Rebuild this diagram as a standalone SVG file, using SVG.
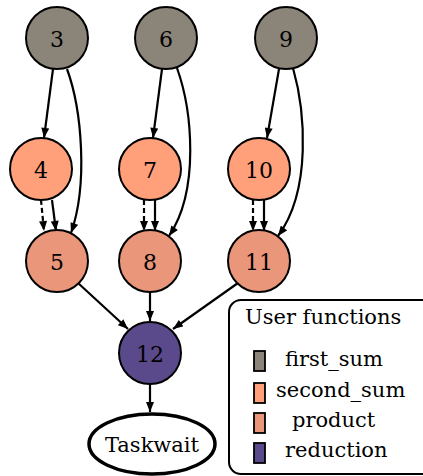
<svg xmlns="http://www.w3.org/2000/svg" width="423" height="476" viewBox="0 0 423 476">
  <style>
    .node circle { stroke: #000; stroke-width: 2; }
    .label { font-family: "DejaVu Serif", serif; font-size: 22px; fill: #000; text-anchor: middle; dominant-baseline: central; }
    .first { fill: #8b8478; }
    .second { fill: #ffa07a; }
    .product { fill: #e9967a; }
    .reduction { fill: #5b4a8b; }
    .edge { fill: none; stroke: #000; stroke-width: 2.2; marker-end: url(#arrow); }
    .dashed { stroke-dasharray: 5 3; }
    .legend-text { font-family: "DejaVu Serif", serif; font-size: 21px; fill: #000; }
    .swatch { stroke: #000; stroke-width: 1.8; }
  </style>
  <defs>
    <marker id="arrow" viewBox="0 0 10 8" refX="10" refY="4" markerWidth="11" markerHeight="8" markerUnits="userSpaceOnUse" orient="auto">
      <path d="M0,0 L10,4 L0,8 Z" fill="#000"/>
    </marker>
  </defs>
  <rect width="423" height="476" fill="#fff"/>

  <g id="edges">
    <!-- first_sum -> second_sum -->
    <path class="edge" d="M53,69 L44,138"/>
    <path class="edge" d="M162,69 L153,138"/>
    <path class="edge" d="M279,69 L267,138"/>
    <!-- first_sum -> product (long arcs) -->
    <path class="edge" d="M67,69 C82,110 88,185 71,233"/>
    <path class="edge" d="M177,68 C192,110 200,190 169,236"/>
    <path class="edge" d="M293,68 C305,110 312,190 278,236"/>
    <!-- second_sum -> product, solid and dashed -->
    <path class="edge dashed" d="M41,200 L44,231"/>
    <path class="edge" d="M52,200 L56,231"/>
    <path class="edge dashed" d="M144,200 L144,231"/>
    <path class="edge" d="M155,200 L155,231"/>
    <path class="edge dashed" d="M253,200 L253,231"/>
    <path class="edge" d="M264,200 L264,231"/>
    <!-- product -> reduction -->
    <path class="edge" d="M78,283 L128,329"/>
    <path class="edge" d="M150,292 L150,321"/>
    <path class="edge" d="M238,283 L173,329"/>
    <!-- reduction -> taskwait -->
    <path class="edge" d="M150,384 L150,412"/>
  </g>

  <g id="n3" class="node"><circle class="first" cx="57" cy="38" r="31"/><text class="label" x="57" y="39">3</text></g>
  <g id="n6" class="node"><circle class="first" cx="166" cy="38" r="31"/><text class="label" x="166" y="39">6</text></g>
  <g id="n9" class="node"><circle class="first" cx="286" cy="38" r="31"/><text class="label" x="286" y="39">9</text></g>

  <g id="n4" class="node"><circle class="second" cx="41" cy="169" r="31"/><text class="label" x="41" y="170">4</text></g>
  <g id="n7" class="node"><circle class="second" cx="150" cy="169" r="31"/><text class="label" x="150" y="170">7</text></g>
  <g id="n10" class="node"><circle class="second" cx="259" cy="169" r="31"/><text class="label" x="259" y="170">10</text></g>

  <g id="n5" class="node"><circle class="product" cx="57" cy="261" r="31"/><text class="label" x="57" y="262">5</text></g>
  <g id="n8" class="node"><circle class="product" cx="150" cy="261" r="31"/><text class="label" x="150" y="262">8</text></g>
  <g id="n11" class="node"><circle class="product" cx="259" cy="261" r="31"/><text class="label" x="259" y="262">11</text></g>

  <g id="n12" class="node"><circle class="reduction" cx="150" cy="353" r="31"/><text class="label" x="150" y="354">12</text></g>

  <g id="taskwait" class="node">
    <ellipse cx="152" cy="444" rx="63" ry="30" fill="#fff" stroke="#000" stroke-width="3.5"/>
    <text class="label" x="152" y="445" style="font-size:21px">Taskwait</text>
  </g>

  <g id="legend">
    <rect x="229" y="300" width="210" height="174" rx="12" fill="#fff" stroke="#000" stroke-width="2"/>
    <text class="legend-text" x="245" y="324">User functions</text>
    <rect class="swatch first" x="254" y="351" width="11" height="20"/>
    <text class="legend-text" x="285" y="366">first_sum</text>
    <rect class="swatch second" x="254" y="383" width="11" height="20"/>
    <text class="legend-text" x="276" y="397">second_sum</text>
    <rect class="swatch product" x="254" y="413" width="11" height="20"/>
    <text class="legend-text" x="292" y="427">product</text>
    <rect class="swatch reduction" x="254" y="443" width="11" height="20"/>
    <text class="legend-text" x="285" y="457">reduction</text>
  </g>
</svg>
